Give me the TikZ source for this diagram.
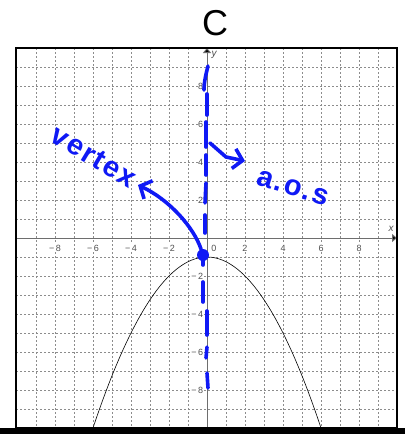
\documentclass[tikz,border=0pt]{standalone}
\usepackage{fontspec}
\setmainfont{Liberation Sans}
\usetikzlibrary{arrows.meta}
\definecolor{handblue}{RGB}{15,25,245}
\definecolor{gridgray}{RGB}{140,140,140}
\definecolor{axisgray}{RGB}{110,110,110}
\definecolor{labgray}{RGB}{80,80,80}
\tikzset{
  gridline/.style={draw=gridgray, line width=0.8pt, dash pattern=on 2pt off 2pt},
  axisline/.style={draw=axisgray, line width=1pt},
  ticklab/.style={fill=white, inner sep=0.6pt, text=labgray, font=\fontsize{9}{9}\selectfont},
  axlab/.style={inner sep=0pt, text=labgray, font=\fontsize{10}{10}\selectfont\itshape},
  hand/.style={draw=handblue, line width=3.6pt, line cap=round, line join=round},
  handtext/.style={text=handblue, inner sep=0pt, font=\fontsize{29}{29}\selectfont\bfseries\addfontfeature{LetterSpace=6}},
}
\begin{document}
\begin{tikzpicture}[x=1pt,y=-1pt]
\useasboundingbox (0,0) rectangle (405,434);
\fill[white] (0,0) rectangle (405,434);
% grid
\foreach \k in {-9,...,9} {
  \draw[gridline] ({207+19*\k},48) -- ({207+19*\k},428);
  \draw[gridline] (16,{238+19*\k}) -- (397,{238+19*\k});
}
% axes
\coordinate (xl) at (16,238);
\coordinate (xr) at (397,238);
\coordinate (yb) at (207,428);
\coordinate (yt) at (207,48);
\draw[axisline,-{Triangle[length=5pt,width=8pt,fill=black]}] (xl) -- (xr);
\draw[axisline,-{Triangle[length=5pt,width=8pt,fill=black]}] (yb) -- (yt);
\node[axlab] (xname) at (391,229) {x};
\node[axlab] (yname) at (214,55) {y};
% tick labels
\foreach \v in {-8,-6,-4,-2,2,4,6,8} {
  \node[ticklab] (xt\v) at ({207+19*\v},248) {\ifnum\v<0 −\,\the\numexpr-\v\relax\else\v\fi};
  \node[ticklab, anchor=east] (yt\v) at (204,{238-19*\v}) {\ifnum\v<0 −\,\the\numexpr-\v\relax\else\v\fi};
}
\node[ticklab] (zero) at (214,248) {0};
% parabola
\draw[black, line width=0.6pt] plot[domain=-6:6, samples=121] ({207+19*\x},{238+19*(1+\x*\x/4)});
% frame
\draw[black, line width=1.6pt] (16,48) rectangle (397,428);
\fill[black] (0,428) rectangle (405,434);
% title
\node (title) at (215,23) {\fontsize{36}{36}\selectfont C};
% axis of symmetry dashes
\draw[hand] (208,66) .. controls (206,74) and (204,82) .. (204,90);
\draw[hand] (207,94) -- (207,115);
\draw[hand] (206,122) -- (206,147);
\draw[hand] (206,155) -- (206,175);
\draw[hand] (206,183) -- (205,203);
\draw[hand] (205,215) -- (205,233);
\draw[hand] (203,258) -- (203,265);
\draw[hand] (203,282) -- (203,302);
\draw[hand] (207,311) -- (207,335);
\draw[hand] (207,347) -- (206,358);
\draw[hand] (207,373) -- (208,388);
% vertex dot and arrow
\node[circle, fill=handblue, minimum size=12pt, inner sep=0pt] (vdot) at (203,255) {};
\coordinate (vtip) at (138,185);
\draw[hand, -{Straight Barb[length=9pt,width=20pt]}] (vdot) .. controls (194,228) and (170,200) .. (vtip);
\node[handtext, rotate=-31] (vertex) at (94,157) {vertex};
% a.o.s arrow
\coordinate (aosstart) at (210,143);
\coordinate (aostip) at (245,161);
\draw[hand, -{Straight Barb[length=9pt,width=20pt]}] (aosstart) -- (226,157) -- (aostip);
\node[handtext, rotate=-17] (aos) at (293,188) {a.o.s};
\end{tikzpicture}
\end{document}
